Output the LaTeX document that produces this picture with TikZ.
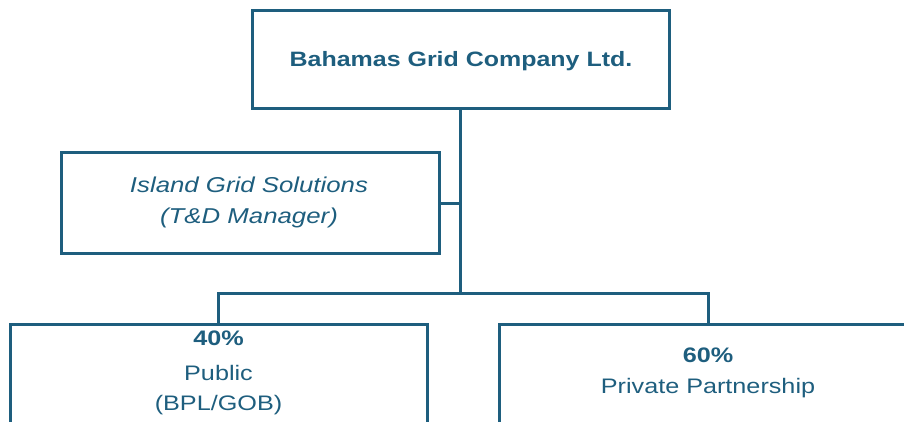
\documentclass[tikz,border=0pt]{standalone}
\usepackage{fontspec}
\setmainfont{Liberation Sans}[FakeStretch=1.2]
\definecolor{bgc}{RGB}{30,94,126}
\tikzset{
  box/.style={draw=bgc, line width=3pt, rectangle, inner sep=0pt},
  conn/.style={draw=bgc, line width=3pt},
  txt/.style={text=bgc, inner sep=0pt, align=center},
}
\begin{document}
\begin{tikzpicture}[x=1pt,y=-1pt]
\useasboundingbox (0,0) rectangle (904,422);
\node[box, minimum width=417pt, minimum height=98pt] (top) at (460.5,60) {};
\node[txt, font=\fontsize{20.8}{24}\selectfont\bfseries] (toptxt) at (461,61) {Bahamas Grid Company Ltd.};
\node[box, minimum width=378pt, minimum height=100pt] (igs) at (250,203) {};
\node[txt, font=\fontsize{21.5}{31.5}\selectfont\itshape] (igstxt) at (249,202.5) {Island Grid Solutions\\(T\&D Manager)};
\node[box, minimum width=417pt, minimum height=200pt, anchor=north] (left) at (218.5,323) {};
\node[box, minimum width=418pt, minimum height=200pt, anchor=north] (right) at (708,323) {};
\node[txt, font=\fontsize{21}{24}\selectfont\bfseries] (p40) at (218.5,338) {40\%};
\node[txt, font=\fontsize{21}{24}\selectfont] (pub) at (218.5,373) {Public};
\node[txt, font=\fontsize{21}{24}\selectfont] (bpl) at (218.5,405) {(BPL/GOB)};
\node[txt, font=\fontsize{21}{24}\selectfont\bfseries] (p60) at (708,355) {60\%};
\node[txt, font=\fontsize{21}{24}\selectfont] (pp) at (708,388) {Private Partnership};
\coordinate (jn) at (460.5,293.5);
\draw[conn] (top.south) -- (jn);
\draw[conn] (igs.east) -- (igs.east -| jn);
\draw[conn] (left.north) |- (jn) -| (right.north);
\end{tikzpicture}
\end{document}
